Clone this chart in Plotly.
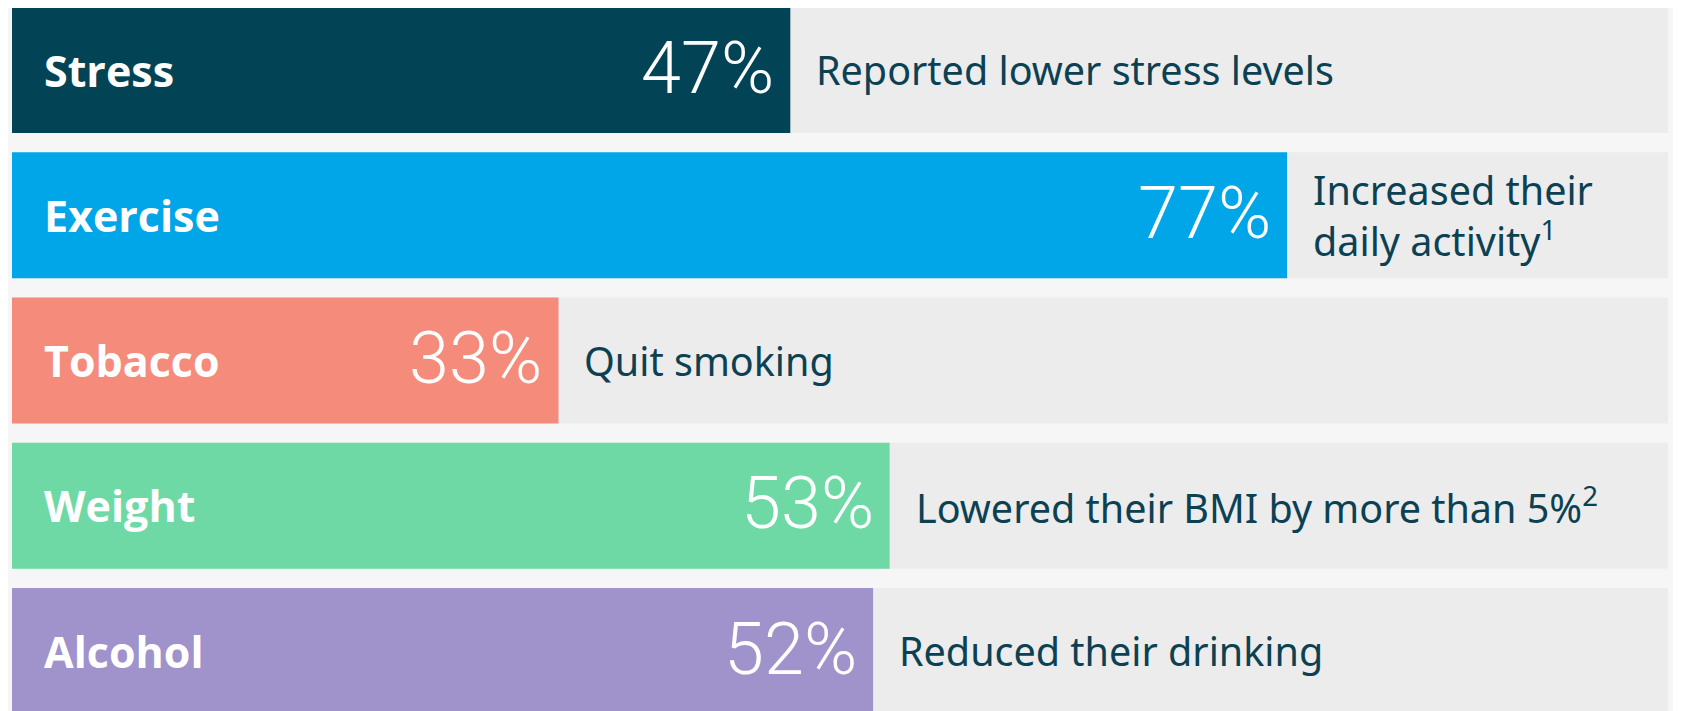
import plotly.graph_objects as go

# values
categories = ["Stress", "Exercise", "Tobacco", "Weight", "Alcohol"]
values = [47, 77, 33, 53, 52]
value_labels = ["47%", "77%", "33%", "53%", "52%"]
descriptions = [
    "Reported lower stress levels",
    "Increased their<br>daily activity<sup>1</sup>",
    "Quit smoking",
    "Lowered their BMI by more than 5%<sup>2</sup>",
    "Reduced their drinking",
]
track_values = [100, 100, 100, 100, 100]
colors = ["#024456", "#00a6e8", "#f58b7a", "#6fd9a5", "#a092cb"]

text_color = "#0b4152"
bar_width = 0.867

fig = go.Figure()

# grey background track behind each bar
fig.add_trace(go.Bar(
    x=track_values, y=categories, orientation="h",
    width=bar_width,
    marker=dict(color="#ececec", line=dict(width=0)),
    hoverinfo="skip", showlegend=False,
))

# coloured bars
fig.add_trace(go.Bar(
    x=values, y=categories, orientation="h",
    width=bar_width,
    marker=dict(color=colors, line=dict(width=0), cornerradius=8),
    hoverinfo="skip", showlegend=False,
))

# category name inside the bar, on the left
for cat in categories:
    fig.add_annotation(
        x=0, y=cat, text="<b>" + cat + "</b>", showarrow=False,
        xanchor="left", yanchor="middle", xshift=30,
        font=dict(family="Open Sans", size=43, color="white"),
    )

# percentage at the end of the bar
for cat, v, lab in zip(categories, values, value_labels):
    fig.add_annotation(
        x=v, y=cat, text=lab, showarrow=False,
        xanchor="right", yanchor="middle", xshift=-14, yshift=2,
        font=dict(family="Roboto", size=72, color="white", weight=300),
    )

# description to the right of the bar
for cat, v, d in zip(categories, values, descriptions):
    fig.add_annotation(
        x=v, y=cat, text=d, showarrow=False, align="left",
        xanchor="left", yanchor="middle", xshift=24,
        font=dict(family="Noto Sans", size=39.5, color=text_color),
    )

# the page body adds an 8px offset, so the axis ranges are shifted to compensate
fig.update_layout(
    width=1681, height=711,
    margin=dict(l=0, r=0, t=0, b=0),
    paper_bgcolor="#f6f6f6", plot_bgcolor="#f6f6f6",
    barmode="overlay",
    xaxis=dict(range=[-0.2415, 101.27], visible=False, fixedrange=True),
    yaxis=dict(range=[4.468, -0.427], visible=False, fixedrange=True),
)

fig.write_html("out.html")
